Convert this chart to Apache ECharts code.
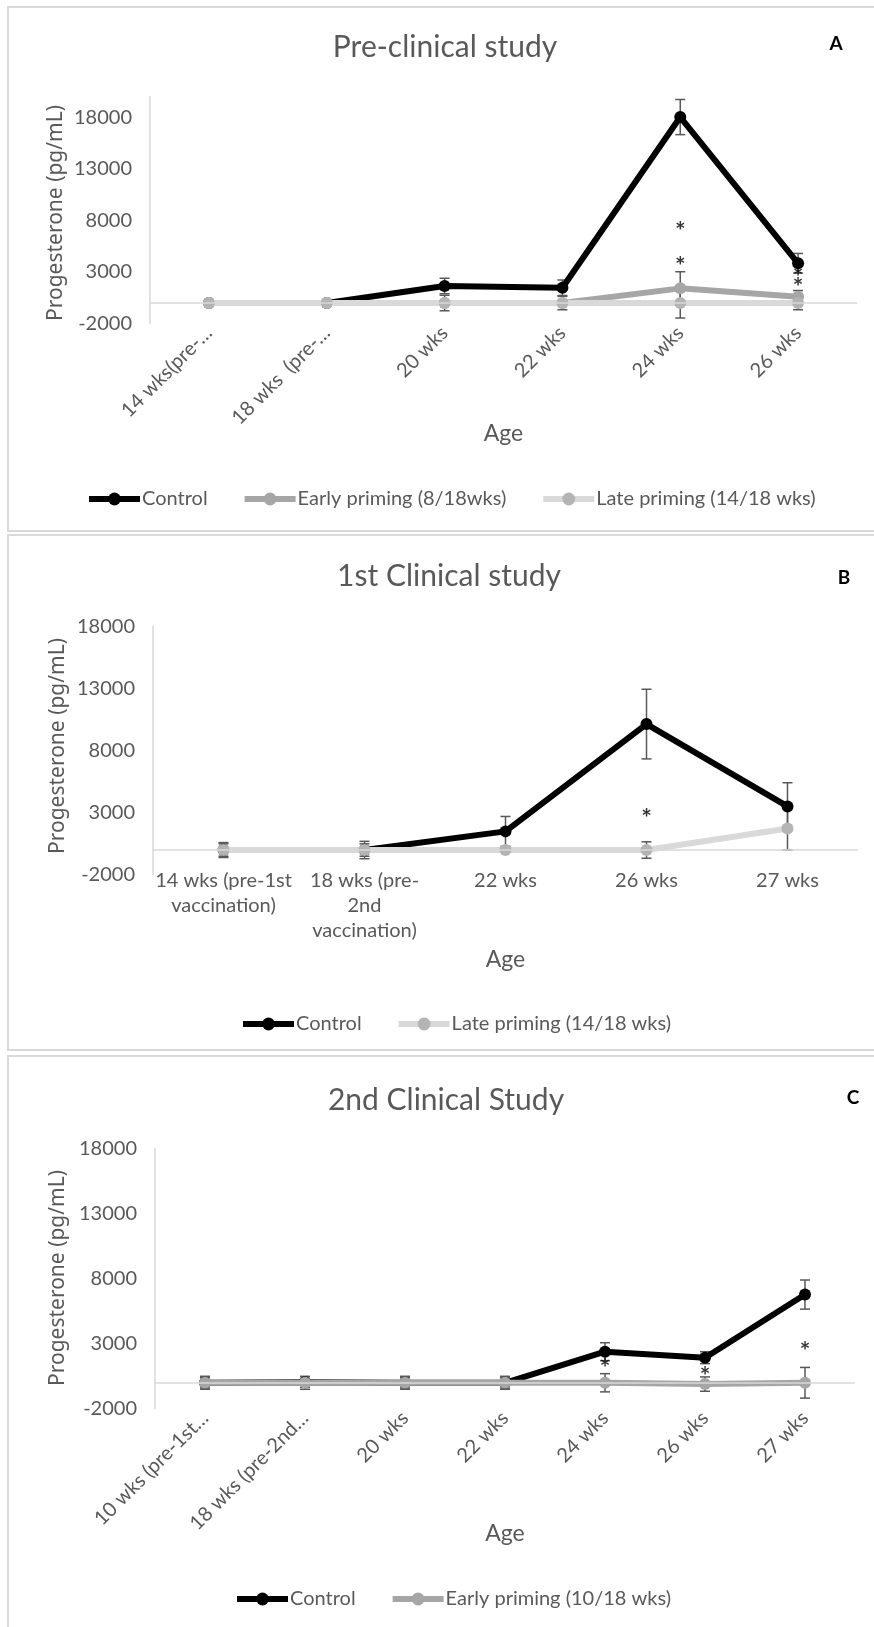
<!DOCTYPE html>
<html>
<head>
<meta charset="utf-8">
<script src="https://cdn.jsdelivr.net/npm/echarts@6/dist/echarts.min.js"></script>
<style>
html,body{margin:0;padding:0;background:#fff;}
#c{width:874px;height:1627px;}
</style>
</head>
<body>
<div id="c"></div>
<script>
// ---------- data ----------
// Panel A: Pre-clinical study
const catsA = ['14 wks(pre-…', '18 wks  (pre-…', '20 wks', '22 wks', '24 wks', '26 wks'];
const ctrlA = [0, 0, 1650, 1480, 18000, 3850];
const ctrlErrA = [0, 0, 750, 750, 1700, 950];
const earlyA = [0, 0, 0, 0, 1420, 610];
const earlyErrA = [0, 0, 0, 0, 1610, 600];
const lateA = [0, 0, 0, 0, 0, 0];
const lateErrA = [0, 0, 750, 650, 1450, 650];
const starsA = [['24 wks', 7400], ['24 wks', 4000], ['26 wks', 2930], ['26 wks', 1965]];

// Panel B: 1st Clinical study
const catsB = ['14 wks (pre-1st\nvaccination)', '18 wks (pre-\n2nd\nvaccination)', '22 wks', '26 wks', '27 wks'];
const ctrlB = [0, 0, 1500, 10130, 3510];
const ctrlErrB = [500, 500, 1200, 2800, 1900];
const lateB = [0, 0, 0, 0, 1730];
const lateErrB = [600, 700, 0, 660, 1730];
const starsB = [['26 wks', 2930]];

// Panel C: 2nd Clinical Study
const catsC = ['10 wks (pre-1st…', '18 wks (pre-2nd…', '20 wks', '22 wks', '24 wks', '26 wks', '27 wks'];
const ctrlC = [0, 50, 0, 0, 2390, 1930, 6780];
const ctrlErrC = [400, 400, 400, 400, 690, 460, 1120];
const earlyC = [0, 0, 0, 0, 0, -100, 0];
const earlyErrC = [500, 500, 500, 500, 700, 550, 1180];
const starsC = [['24 wks', 1445], ['26 wks', 853], ['27 wks', 2775]];

const titles = ['Pre-clinical study', '1st Clinical study', '2nd Clinical Study'];
const panelTags = ['A', 'B', 'C'];
const yName = 'Progesterone (pg/mL)';
const xName = 'Age';
const nControl = 'Control';
const nEarlyA = 'Early priming (8/18wks)';
const nLate = 'Late priming (14/18 wks)';
const nEarlyC = 'Early priming (10/18 wks)';

// ---------- styling ----------
const GRAY_TXT = '#595959';
const FONT = 'Lato';
const C_CTRL = '#000000';
const C_EARLY = '#a6a6a6';
const C_LATE = '#d9d9d9';
const C_LATE_M = '#b4b4b4';

const chart = echarts.init(document.getElementById('c'), null, {renderer: 'canvas'});

function errRender(params, api) {
  const x = api.value(0), y = api.value(1), e = api.value(2);
  if (!e) return null;
  const t = api.coord([x, y + e]);
  const b = api.coord([x, y - e]);
  const hw = 5;
  const st = {stroke: '#595959', lineWidth: 1.5};
  return {type: 'group', children: [
    {type: 'line', shape: {x1: t[0], y1: t[1], x2: b[0], y2: b[1]}, style: st},
    {type: 'line', shape: {x1: t[0] - hw, y1: t[1], x2: t[0] + hw, y2: t[1]}, style: st},
    {type: 'line', shape: {x1: b[0] - hw, y1: b[1], x2: b[0] + hw, y2: b[1]}, style: st}
  ]};
}
function errSeries(vals, errs, idx) {
  return {type: 'custom', xAxisIndex: idx, yAxisIndex: idx, renderItem: errRender,
    encode: {x: 0, y: 1}, data: vals.map((v, i) => [i, v, errs[i]]), z: 1, silent: true, clip: false};
}
function lineSeries(name, vals, idx, color, mColor, z, extra) {
  return Object.assign({type: 'line', name: name, xAxisIndex: idx, yAxisIndex: idx, data: vals,
    symbol: 'circle', symbolSize: 12, showSymbol: true, showAllSymbol: true,
    lineStyle: {color: color, width: 6}, itemStyle: {color: mColor},
    z: z, silent: true}, extra || {});
}
function zeroLine() {
  return {silent: true, symbol: 'none', label: {show: false},
    lineStyle: {color: '#d9d9d9', width: 1.5, type: 'solid'}, data: [{yAxis: 0}]};
}
function starSeries(data, idx) {
  return {type: 'scatter', xAxisIndex: idx, yAxisIndex: idx, data: data, symbolSize: 0, z: 5, silent: true,
    label: {show: true, position: 'inside', formatter: '*', color: '#000', fontFamily: FONT, fontSize: 25, fontWeight: 'bold', offset: [0, 5]}};
}

const grids = [
  {left: 150, top: 96.4, width: 707, height: 227.3},
  {left: 153, top: 626.2, width: 705, height: 248.7},
  {left: 155, top: 1148.6, width: 700, height: 260.2}
];

function xAxisCfg(idx, cats, rotate, nameGap, margin, lh) {
  return {type: 'category', gridIndex: idx, data: cats, boundaryGap: true,
    axisLine: {show: false}, axisTick: {show: false}, splitLine: {show: false},
    axisLabel: {interval: 0, rotate: rotate, margin: margin, color: GRAY_TXT, fontFamily: FONT, fontSize: 20, lineHeight: lh},
    name: xName, nameLocation: 'middle', nameGap: nameGap, nameMoveOverlap: false,
    nameTextStyle: {color: GRAY_TXT, fontFamily: FONT, fontSize: 23}};
}
function yAxisCfg(idx, max) {
  return {type: 'value', gridIndex: idx, min: -2000, max: max, interval: 5000,
    axisLine: {show: true, lineStyle: {color: '#d9d9d9', width: 1.5}}, axisTick: {show: false},
    splitLine: {show: false},
    axisLabel: {color: GRAY_TXT, fontFamily: FONT, fontSize: 20, margin: 18, showMaxLabel: max === 18000,
      formatter: function (v) { return String(v); }}};
}

function legendCfg(data, left, top) {
  return {data: data, left: left, top: top, padding: 0, itemWidth: 51, itemHeight: 16, itemGap: 34,
    lineStyle: {width: 6},
    textStyle: {color: GRAY_TXT, fontFamily: FONT, fontSize: 20, padding: [0, 0, 0, -3]},
    selectedMode: false};
}

const borderStyle = {stroke: '#d9d9d9', fill: 'none', lineWidth: 2};
const graphics = [
  {type: 'rect', shape: {x: 8, y: 7, width: 880, height: 524}, style: borderStyle, silent: true},
  {type: 'rect', shape: {x: 8, y: 535, width: 880, height: 515}, style: borderStyle, silent: true},
  {type: 'rect', shape: {x: 8, y: 1056, width: 880, height: 600}, style: borderStyle, silent: true}
];
const titlePos = [[445, 47], [449, 576], [446, 1100]];
const tagPos = [[836, 44], [844, 578], [853, 1098]];
const yNamePos = [[56, 213], [58, 746], [58, 1278]];
titles.forEach((t, i) => {
  graphics.push({type: 'text', x: titlePos[i][0], y: titlePos[i][1], silent: true,
    style: {text: t, fill: GRAY_TXT, fontSize: 30, fontFamily: FONT, textAlign: 'center', textVerticalAlign: 'middle'}});
  graphics.push({type: 'text', x: tagPos[i][0], y: tagPos[i][1], silent: true,
    style: {text: panelTags[i], fill: '#000', fontSize: 19, fontWeight: 'bold', fontFamily: FONT, textAlign: 'center', textVerticalAlign: 'middle'}});
  graphics.push({type: 'text', x: yNamePos[i][0], y: yNamePos[i][1], rotation: Math.PI / 2, silent: true,
    style: {text: yName, fill: GRAY_TXT, fontSize: 21, fontFamily: 'Noto Sans', textAlign: 'center', textVerticalAlign: 'middle'}});
});

const option = {
  animation: false,
  backgroundColor: '#ffffff',
  graphic: graphics,
  grid: grids,
  xAxis: [
    xAxisCfg(0, catsA, 45, 98, 6),
    xAxisCfg(1, catsB, 0, 73, -7, 25),
    xAxisCfg(2, catsC, 45, 113, 6)
  ],
  yAxis: [
    yAxisCfg(0, 20000),
    yAxisCfg(1, 18000),
    yAxisCfg(2, 18000)
  ],
  legend: [
    legendCfg([nControl, nEarlyA, nLate], 86, 489),
    legendCfg([nControl, nLate], 240, 1014),
    legendCfg([nControl, nEarlyC], 234, 1589)
  ],
  series: [
    // Panel A
    errSeries(ctrlA, ctrlErrA, 0),
    errSeries(earlyA, earlyErrA, 0),
    errSeries(lateA, lateErrA, 0),
    lineSeries(nControl, ctrlA, 0, C_CTRL, C_CTRL, 2, {markLine: zeroLine()}),
    lineSeries(nEarlyA, earlyA, 0, C_EARLY, C_EARLY, 3),
    lineSeries(nLate, lateA, 0, C_LATE, C_LATE_M, 4),
    starSeries(starsA, 0),
    // Panel B
    errSeries(ctrlB, ctrlErrB, 1),
    errSeries(lateB, lateErrB, 1),
    lineSeries(nControl, ctrlB, 1, C_CTRL, C_CTRL, 2, {markLine: zeroLine()}),
    lineSeries(nLate, lateB, 1, C_LATE, C_LATE_M, 4),
    starSeries(starsB, 1),
    // Panel C
    errSeries(ctrlC, ctrlErrC, 2),
    errSeries(earlyC, earlyErrC, 2),
    lineSeries(nControl, ctrlC, 2, C_CTRL, C_CTRL, 2, {markLine: zeroLine()}),
    lineSeries(nEarlyC, earlyC, 2, C_EARLY, C_EARLY, 3),
    starSeries(starsC, 2)
  ]
};
chart.setOption(option);
</script>
</body>
</html>
